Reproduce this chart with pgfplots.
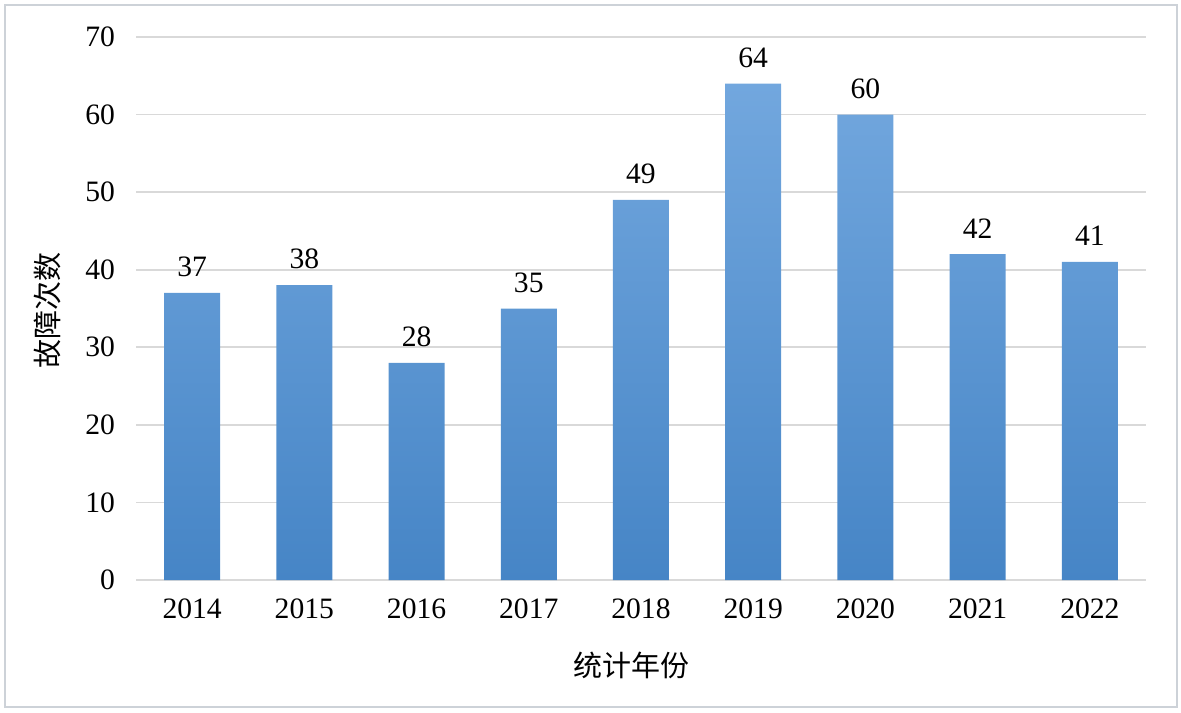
\documentclass[border=0pt]{standalone}
\usepackage{pgfplots}
\pgfplotsset{compat=1.18}
\usepackage{fontspec}
\setmainfont{Liberation Serif}
\newfontfamily\cjk{Noto Sans CJK SC}
\definecolor{gridc}{HTML}{D9D9D9}
\definecolor{framec}{HTML}{CDD2D8}
\definecolor{bartop}{HTML}{72A7DE}
\definecolor{barbot}{HTML}{4685C6}
\begin{document}
\begin{tikzpicture}[x=1pt,y=1pt]
\path[use as bounding box] (0,0) rectangle (590.5,356);
\draw[framec, line width=1.2pt] (2.5,2.5) rectangle (588.5,353.5);
\begin{axis}[
  at={(68pt,66pt)}, anchor=south west,
  scale only axis, width=505pt, height=271.5pt,
  xmin=-0.5, xmax=8.5, ymin=0, ymax=70,
  ytick={0,10,...,70},
  xtick=data,
  xticklabels={2014,2015,2016,2017,2018,2019,2020,2021,2022},
  ymajorgrids, grid style={gridc, line width=0.9pt},
  axis line style={draw=none},
  major tick length=0pt,
  /pgf/number format/assume math mode=true,
  /pgf/number format/1000 sep={},
  tick label style={font=\fontsize{14.8}{16}\selectfont},
  yticklabel style={xshift=-7pt},
  xticklabel style={yshift=-6pt},
  ybar, bar width=28pt,
  nodes near coords,
  nodes near coords style={font=\fontsize{14.8}{16}\selectfont, yshift=4.5pt},
  xlabel={\cjk 统计年份}, ylabel={\cjk 故障次数},
  xlabel style={at={(axis description cs:0.491,-0.1565)}, anchor=center, font=\fontsize{14.5}{16}\selectfont},
  ylabel style={at={(axis description cs:-0.0881,0.497)}, anchor=center, rotate=0, font=\fontsize{14.5}{16}\selectfont},
]
\addplot[draw=none, top color=bartop, bottom color=barbot] coordinates {
(0,37) (1,38) (2,28) (3,35) (4,49) (5,64) (6,60) (7,42) (8,41)
};
\end{axis}
\end{tikzpicture}
\end{document}
